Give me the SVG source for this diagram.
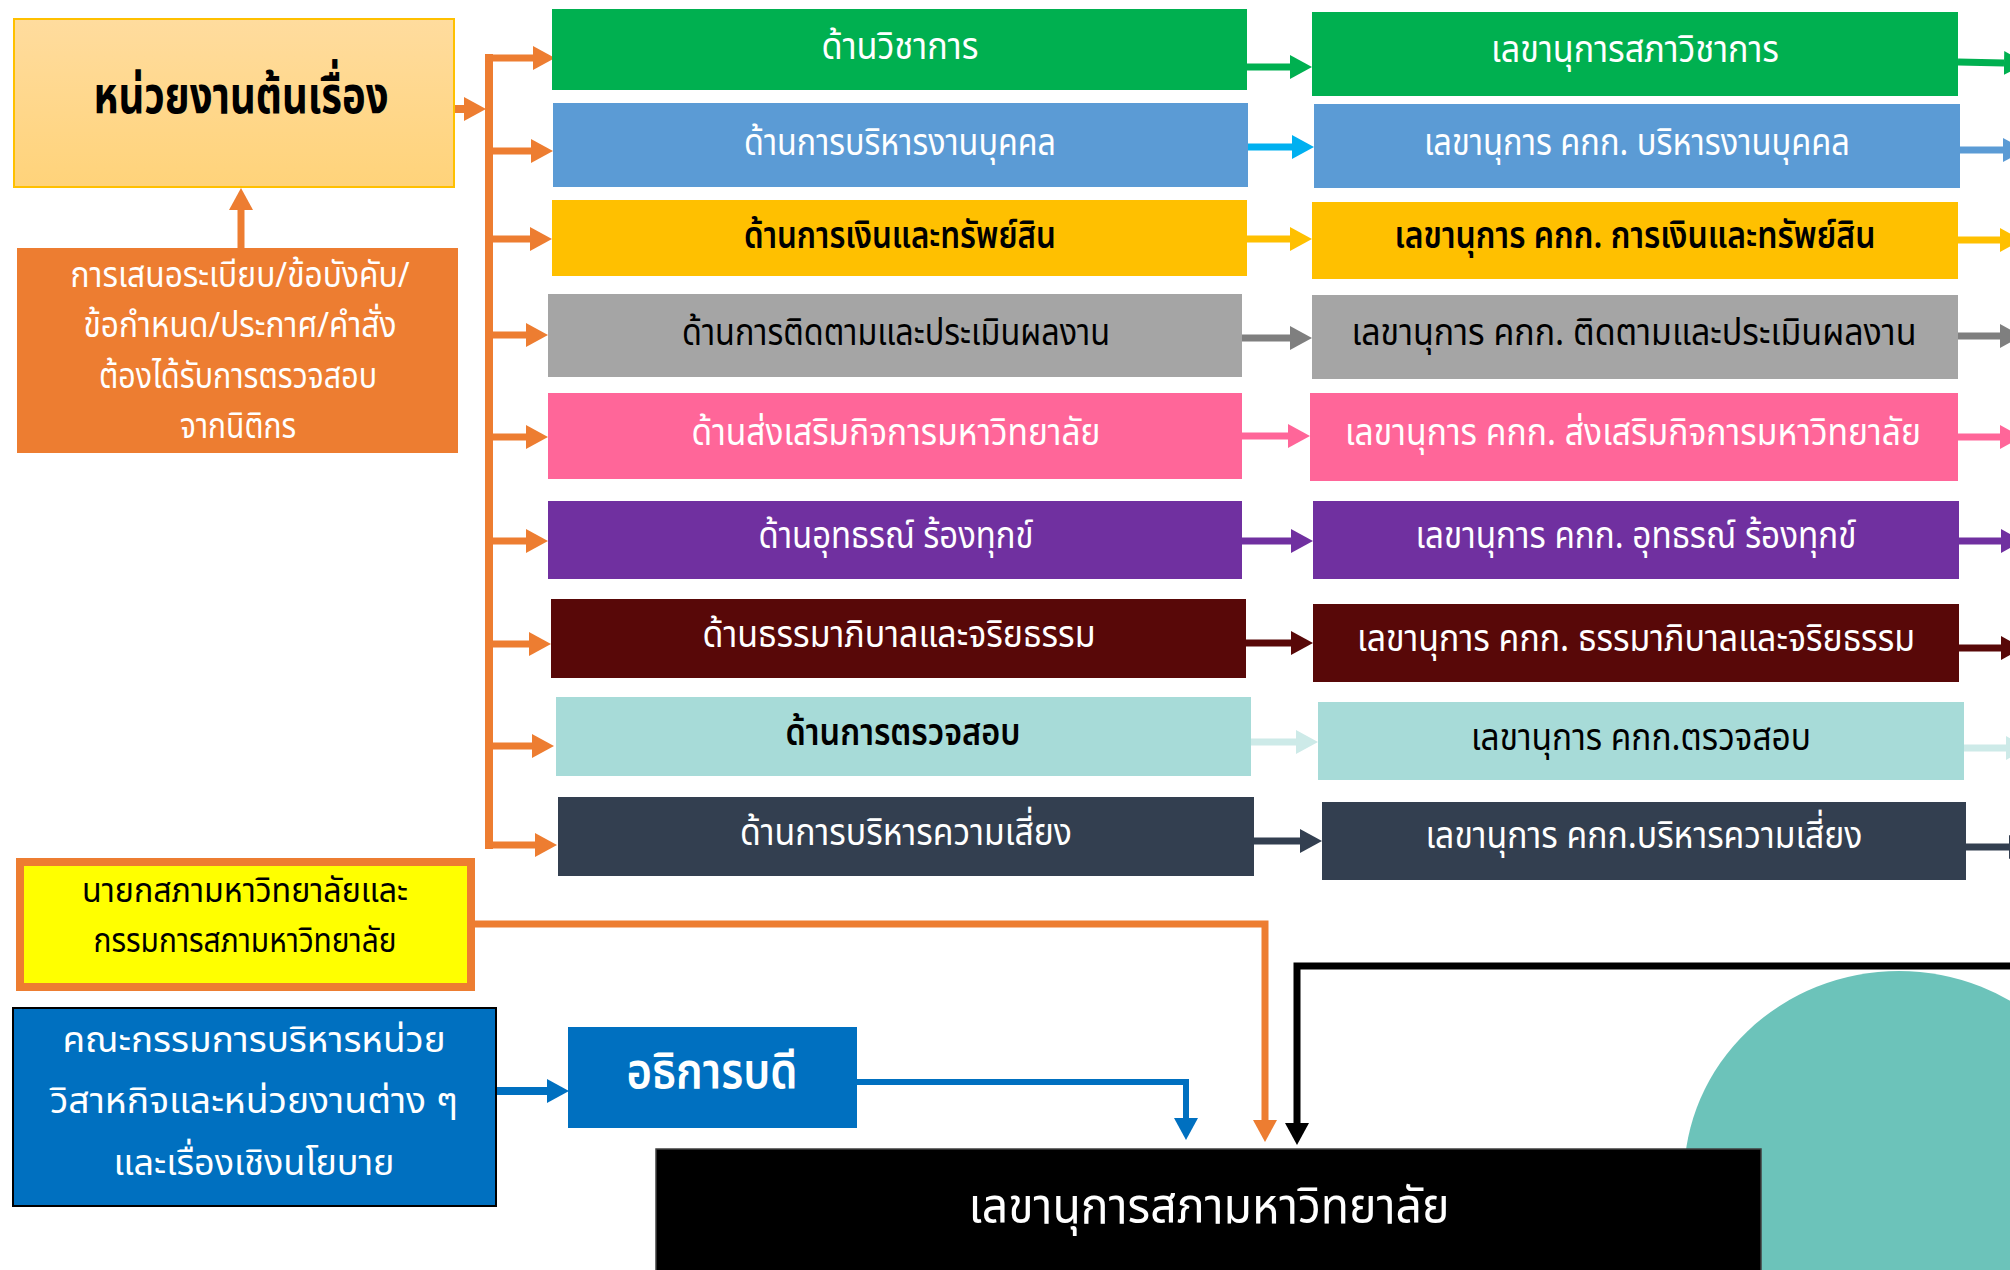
<svg xmlns="http://www.w3.org/2000/svg" width="2010" height="1270" viewBox="0 0 2010 1270">
<defs>
<style>
text{font-family:"Noto Sans Thai","Noto Sans Thai UI","Tahoma","Noto Sans","DejaVu Sans",sans-serif;text-anchor:middle;}
.w{fill:#fff;}
.k{fill:#000;}
.b{font-weight:bold;}
.sb{font-weight:600;}
.t38{font-size:38px;}
</style>
<linearGradient id="gBox1" x1="0" y1="0" x2="0" y2="1">
<stop offset="0" stop-color="#FFDC9E"/>
<stop offset="1" stop-color="#FFD37A"/>
</linearGradient>
<marker id="hOrange" viewBox="0 0 22 24" refX="0" refY="12" markerWidth="22" markerHeight="24" markerUnits="userSpaceOnUse" orient="auto"><path d="M0,0 L22,12 L0,24 Z" fill="#ED7D31"/></marker>
<marker id="hGreen" viewBox="0 0 22 24" refX="0" refY="12" markerWidth="22" markerHeight="24" markerUnits="userSpaceOnUse" orient="auto"><path d="M0,0 L22,12 L0,24 Z" fill="#00B050"/></marker>
<marker id="hCyan" viewBox="0 0 22 24" refX="0" refY="12" markerWidth="22" markerHeight="24" markerUnits="userSpaceOnUse" orient="auto"><path d="M0,0 L22,12 L0,24 Z" fill="#00B0F0"/></marker>
<marker id="hBlue" viewBox="0 0 22 24" refX="0" refY="12" markerWidth="22" markerHeight="24" markerUnits="userSpaceOnUse" orient="auto"><path d="M0,0 L22,12 L0,24 Z" fill="#5B9BD5"/></marker>
<marker id="hYellow" viewBox="0 0 22 24" refX="0" refY="12" markerWidth="22" markerHeight="24" markerUnits="userSpaceOnUse" orient="auto"><path d="M0,0 L22,12 L0,24 Z" fill="#FFC000"/></marker>
<marker id="hGray" viewBox="0 0 22 24" refX="0" refY="12" markerWidth="22" markerHeight="24" markerUnits="userSpaceOnUse" orient="auto"><path d="M0,0 L22,12 L0,24 Z" fill="#7F7F7F"/></marker>
<marker id="hPink" viewBox="0 0 22 24" refX="0" refY="12" markerWidth="22" markerHeight="24" markerUnits="userSpaceOnUse" orient="auto"><path d="M0,0 L22,12 L0,24 Z" fill="#FF6699"/></marker>
<marker id="hPurple" viewBox="0 0 22 24" refX="0" refY="12" markerWidth="22" markerHeight="24" markerUnits="userSpaceOnUse" orient="auto"><path d="M0,0 L22,12 L0,24 Z" fill="#7030A0"/></marker>
<marker id="hMaroon" viewBox="0 0 22 24" refX="0" refY="12" markerWidth="22" markerHeight="24" markerUnits="userSpaceOnUse" orient="auto"><path d="M0,0 L22,12 L0,24 Z" fill="#580808"/></marker>
<marker id="hTeal" viewBox="0 0 22 24" refX="0" refY="12" markerWidth="22" markerHeight="24" markerUnits="userSpaceOnUse" orient="auto"><path d="M0,0 L22,12 L0,24 Z" fill="#CDEAE8"/></marker>
<marker id="hSlate" viewBox="0 0 22 24" refX="0" refY="12" markerWidth="22" markerHeight="24" markerUnits="userSpaceOnUse" orient="auto"><path d="M0,0 L22,12 L0,24 Z" fill="#333F50"/></marker>
<marker id="hBlueDk" viewBox="0 0 22 24" refX="0" refY="12" markerWidth="22" markerHeight="24" markerUnits="userSpaceOnUse" orient="auto"><path d="M0,0 L22,12 L0,24 Z" fill="#0070C0"/></marker>
<marker id="hBlack" viewBox="0 0 22 24" refX="0" refY="12" markerWidth="22" markerHeight="24" markerUnits="userSpaceOnUse" orient="auto"><path d="M0,0 L22,12 L0,24 Z" fill="#000"/></marker>
</defs>
<rect width="2010" height="1270" fill="#fff"/>

<!-- background teal shape -->
<ellipse id="teal-shape" cx="1899" cy="1178" rx="215" ry="207" fill="#6CC3BA"/>

<!-- connectors -->
<g id="connectors" fill="none">
<line x1="241" y1="248" x2="241" y2="210" stroke="#ED7D31" stroke-width="7" marker-end="url(#hOrange)"/>
<line x1="454" y1="109" x2="464" y2="109" stroke="#ED7D31" stroke-width="8" marker-end="url(#hOrange)"/>
<line x1="489" y1="54" x2="489" y2="849" stroke="#ED7D31" stroke-width="8"/>
<g stroke="#ED7D31" stroke-width="7">
<line x1="485" y1="58" x2="533" y2="58" marker-end="url(#hOrange)"/>
<line x1="489" y1="151" x2="531" y2="151" marker-end="url(#hOrange)"/>
<line x1="489" y1="239" x2="530" y2="239" marker-end="url(#hOrange)"/>
<line x1="489" y1="335" x2="526" y2="335" marker-end="url(#hOrange)"/>
<line x1="489" y1="437" x2="526" y2="437" marker-end="url(#hOrange)"/>
<line x1="489" y1="541" x2="526" y2="541" marker-end="url(#hOrange)"/>
<line x1="489" y1="644" x2="529" y2="644" marker-end="url(#hOrange)"/>
<line x1="489" y1="746" x2="532" y2="746" marker-end="url(#hOrange)"/>
<line x1="485" y1="845" x2="535" y2="845" marker-end="url(#hOrange)"/>
</g>
<g stroke-width="7">
<line x1="1247" y1="67" x2="1290" y2="67" stroke="#00B050" marker-end="url(#hGreen)"/>
<line x1="1248" y1="147" x2="1292" y2="147" stroke="#00B0F0" marker-end="url(#hCyan)"/>
<line x1="1247" y1="239" x2="1290" y2="239" stroke="#FFC000" marker-end="url(#hYellow)"/>
<line x1="1242" y1="338" x2="1290" y2="338" stroke="#7F7F7F" marker-end="url(#hGray)"/>
<line x1="1242" y1="436" x2="1288" y2="436" stroke="#FF6699" marker-end="url(#hPink)"/>
<line x1="1242" y1="541" x2="1291" y2="541" stroke="#7030A0" marker-end="url(#hPurple)"/>
<line x1="1246" y1="643" x2="1291" y2="643" stroke="#580808" marker-end="url(#hMaroon)"/>
<line x1="1251" y1="742" x2="1296" y2="742" stroke="#CDEAE8" marker-end="url(#hTeal)"/>
<line x1="1254" y1="841" x2="1300" y2="841" stroke="#333F50" marker-end="url(#hSlate)"/>
</g>
<g stroke-width="7">
<line x1="1958" y1="62" x2="2004" y2="63" stroke="#00B050" marker-end="url(#hGreen)"/>
<line x1="1960" y1="150" x2="2003" y2="150" stroke="#5B9BD5" marker-end="url(#hBlue)"/>
<line x1="1958" y1="240" x2="2000" y2="240" stroke="#FFC000" marker-end="url(#hYellow)"/>
<line x1="1958" y1="336" x2="2000" y2="336" stroke="#7F7F7F" marker-end="url(#hGray)"/>
<line x1="1958" y1="437" x2="2000" y2="437" stroke="#FF6699" marker-end="url(#hPink)"/>
<line x1="1959" y1="541" x2="2001" y2="541" stroke="#7030A0" marker-end="url(#hPurple)"/>
<line x1="1959" y1="648" x2="2001" y2="648" stroke="#580808" marker-end="url(#hMaroon)"/>
<line x1="1964" y1="748" x2="2006" y2="748" stroke="#CDEAE8" marker-end="url(#hTeal)"/>
<line x1="1966" y1="847" x2="2009" y2="847" stroke="#333F50" marker-end="url(#hSlate)"/>
</g>
<path d="M475,924 H1265 V1120" stroke="#ED7D31" stroke-width="7" marker-end="url(#hOrange)"/>
<line x1="496" y1="1091" x2="547" y2="1091" stroke="#0070C0" stroke-width="8" marker-end="url(#hBlueDk)"/>
<path d="M857,1082 H1186 V1118" stroke="#0070C0" stroke-width="6" marker-end="url(#hBlueDk)"/>
<path d="M2010,966 H1297 V1123" stroke="#000" stroke-width="7" marker-end="url(#hBlack)"/>
</g>

<g id="node-origin">
<rect x="14" y="19" width="440" height="168" fill="url(#gBox1)" stroke="#FFC000" stroke-width="2"/>
<text x="241" y="113" class="k b" font-size="52" textLength="295" lengthAdjust="spacingAndGlyphs">หน่วยงานต้นเรื่อง</text>
</g>
<g id="node-legal">
<rect x="17" y="248" width="441" height="205" fill="#ED7D31"/>
<text x="240" y="287" class="w" font-size="35" textLength="339" lengthAdjust="spacingAndGlyphs">การเสนอระเบียบ/ข้อบังคับ/</text>
<text x="240" y="337" class="w" font-size="35" textLength="313" lengthAdjust="spacingAndGlyphs">ข้อกำหนด/ประกาศ/คำสั่ง</text>
<text x="238" y="388" class="w" font-size="35" textLength="278" lengthAdjust="spacingAndGlyphs">ต้องได้รับการตรวจสอบ</text>
<text x="238" y="438" class="w" font-size="35" textLength="116" lengthAdjust="spacingAndGlyphs">จากนิติกร</text>
</g>

<g id="node-c1-academic">
<rect x="552" y="9" width="695" height="81" fill="#00B050"/>
<text x="900" y="59" class="w t38" textLength="157" lengthAdjust="spacingAndGlyphs">ด้านวิชาการ</text>
</g>
<g id="node-c1-hr">
<rect x="553" y="103" width="695" height="84" fill="#5B9BD5"/>
<text x="900" y="155" class="w t38" textLength="312" lengthAdjust="spacingAndGlyphs">ด้านการบริหารงานบุคคล</text>
</g>
<g id="node-c1-finance">
<rect x="552" y="200" width="695" height="76" fill="#FFC000"/>
<text x="900" y="248" class="k sb t38" textLength="312" lengthAdjust="spacingAndGlyphs">ด้านการเงินและทรัพย์สิน</text>
</g>
<g id="node-c1-monitor">
<rect x="548" y="294" width="694" height="83" fill="#A5A5A5"/>
<text x="896" y="345" class="k t38" textLength="428" lengthAdjust="spacingAndGlyphs">ด้านการติดตามและประเมินผลงาน</text>
</g>
<g id="node-c1-promote">
<rect x="548" y="393" width="694" height="86" fill="#FF6699"/>
<text x="896" y="445" class="w t38" textLength="409" lengthAdjust="spacingAndGlyphs">ด้านส่งเสริมกิจการมหาวิทยาลัย</text>
</g>
<g id="node-c1-appeal">
<rect x="548" y="501" width="694" height="78" fill="#7030A0"/>
<text x="896" y="548" class="w t38" textLength="275" lengthAdjust="spacingAndGlyphs">ด้านอุทธรณ์ ร้องทุกข์</text>
</g>
<g id="node-c1-governance">
<rect x="551" y="599" width="695" height="79" fill="#580808"/>
<text x="899" y="647" class="w t38" textLength="393" lengthAdjust="spacingAndGlyphs">ด้านธรรมาภิบาลและจริยธรรม</text>
</g>
<g id="node-c1-audit">
<rect x="556" y="697" width="695" height="79" fill="#A7DBD8"/>
<text x="903" y="745" class="k sb t38" textLength="235" lengthAdjust="spacingAndGlyphs">ด้านการตรวจสอบ</text>
</g>
<g id="node-c1-risk">
<rect x="558" y="797" width="696" height="79" fill="#333F50"/>
<text x="906" y="845" class="w t38" textLength="332" lengthAdjust="spacingAndGlyphs">ด้านการบริหารความเสี่ยง</text>
</g>

<g id="node-c2-academic">
<rect x="1312" y="12" width="646" height="84" fill="#00B050"/>
<text x="1635" y="62" class="w t38" textLength="288" lengthAdjust="spacingAndGlyphs">เลขานุการสภาวิชาการ</text>
</g>
<g id="node-c2-hr">
<rect x="1314" y="104" width="646" height="84" fill="#5B9BD5"/>
<text x="1637" y="155" class="w t38" textLength="426" lengthAdjust="spacingAndGlyphs">เลขานุการ คกก. บริหารงานบุคคล</text>
</g>
<g id="node-c2-finance">
<rect x="1312" y="202" width="646" height="77" fill="#FFC000"/>
<text x="1635" y="248" class="k sb t38" textLength="481" lengthAdjust="spacingAndGlyphs">เลขานุการ คกก. การเงินและทรัพย์สิน</text>
</g>
<g id="node-c2-monitor">
<rect x="1312" y="295" width="646" height="84" fill="#A5A5A5"/>
<text x="1634" y="345" class="k t38" textLength="565" lengthAdjust="spacingAndGlyphs">เลขานุการ คกก. ติดตามและประเมินผลงาน</text>
</g>
<g id="node-c2-promote">
<rect x="1310" y="393" width="648" height="88" fill="#FF6699"/>
<text x="1633" y="445" class="w t38" textLength="576" lengthAdjust="spacingAndGlyphs">เลขานุการ คกก. ส่งเสริมกิจการมหาวิทยาลัย</text>
</g>
<g id="node-c2-appeal">
<rect x="1313" y="501" width="646" height="78" fill="#7030A0"/>
<text x="1636" y="548" class="w t38" textLength="441" lengthAdjust="spacingAndGlyphs">เลขานุการ คกก. อุทธรณ์ ร้องทุกข์</text>
</g>
<g id="node-c2-governance">
<rect x="1313" y="604" width="646" height="78" fill="#580808"/>
<text x="1636" y="651" class="w t38" textLength="558" lengthAdjust="spacingAndGlyphs">เลขานุการ คกก. ธรรมาภิบาลและจริยธรรม</text>
</g>
<g id="node-c2-audit">
<rect x="1318" y="702" width="646" height="78" fill="#A7DBD8"/>
<text x="1641" y="750" class="k t38" textLength="340" lengthAdjust="spacingAndGlyphs">เลขานุการ คกก.ตรวจสอบ</text>
</g>
<g id="node-c2-risk">
<rect x="1322" y="802" width="644" height="78" fill="#333F50"/>
<text x="1644" y="848" class="w t38" textLength="437" lengthAdjust="spacingAndGlyphs">เลขานุการ คกก.บริหารความเสี่ยง</text>
</g>

<g id="node-council">
<rect x="20" y="862" width="451" height="125" fill="#FFFF00" stroke="#ED7D31" stroke-width="8"/>
<text x="245" y="902" class="k" font-size="34" textLength="326" lengthAdjust="spacingAndGlyphs">นายกสภามหาวิทยาลัยและ</text>
<text x="245" y="952" class="k" font-size="34" textLength="303" lengthAdjust="spacingAndGlyphs">กรรมการสภามหาวิทยาลัย</text>
</g>
<g id="node-committee">
<rect x="13" y="1008" width="483" height="198" fill="#0070C0" stroke="#000" stroke-width="2"/>
<text x="254" y="1052" class="w" font-size="36" textLength="383" lengthAdjust="spacingAndGlyphs">คณะกรรมการบริหารหน่วย</text>
<text x="254" y="1113" class="w" font-size="36" textLength="408" lengthAdjust="spacingAndGlyphs">วิสาหกิจและหน่วยงานต่าง ๆ</text>
<text x="254" y="1175" class="w" font-size="36" textLength="281" lengthAdjust="spacingAndGlyphs">และเรื่องเชิงนโยบาย</text>
</g>
<g id="node-president">
<rect x="568" y="1027" width="289" height="101" fill="#0070C0"/>
<text x="712" y="1088" class="w sb" font-size="50" textLength="171" lengthAdjust="spacingAndGlyphs">อธิการบดี</text>
</g>
<g id="node-secretary">
<rect x="656" y="1149" width="1105" height="130" fill="#000" stroke="#404040" stroke-width="1.5"/>
<text x="1209" y="1223" class="w" font-size="50" textLength="481" lengthAdjust="spacingAndGlyphs">เลขานุการสภามหาวิทยาลัย</text>
</g>
</svg>
